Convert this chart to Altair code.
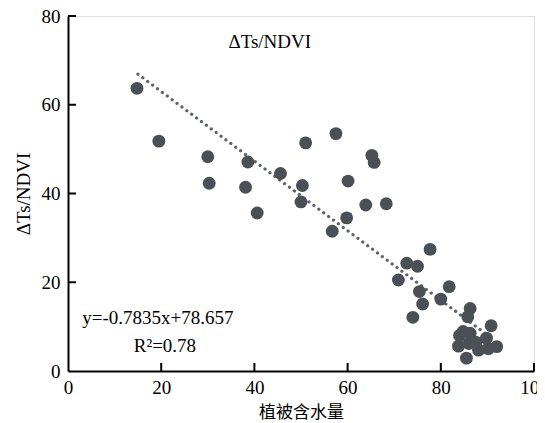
import altair as alt
import pandas as pd

x_vals = [14.8, 19.5, 30.0, 30.3, 38.6, 38.1, 40.6, 45.6, 50.3, 51.0, 50.0, 57.5,
          60.1, 56.7, 59.8, 65.2, 65.7, 63.9, 68.3, 77.7, 72.7, 75.0, 70.9, 81.8,
          75.4, 80.0, 76.1, 74.0, 86.3, 85.8, 90.8, 84.8, 86.3, 83.8, 86.0, 89.8,
          92.0, 88.1, 85.5, 90.2, 87.5, 84.0]
y_vals = [63.7, 51.8, 48.3, 42.3, 47.1, 41.4, 35.6, 44.5, 41.8, 51.4, 38.1, 53.5,
          42.8, 31.5, 34.5, 48.6, 47.0, 37.4, 37.7, 27.4, 24.3, 23.6, 20.5, 19.0,
          17.9, 16.2, 15.1, 12.1, 14.1, 12.2, 10.2, 8.9, 8.5, 5.6, 6.2, 7.4,
          5.5, 4.7, 2.9, 5.0, 6.5, 8.0]

trend_x = [15.0, 89.5]
trend_y = [66.9, 8.5]

x_ticks = [20, 40, 60, 80, 100]
y_ticks = [20, 40, 60, 80]

ann_text = ["ΔTs/NDVI", "y=-0.7835x+78.657", "R²=0.78"]
ann_x = [43.3, 19.3, 20.8]
ann_y = [74.1, 11.9, 5.6]

W, H = 466, 355
SERIF = "Liberation Serif"

pts = pd.DataFrame({"x": x_vals, "y": y_vals})
trend = pd.DataFrame({"x": trend_x, "y": trend_y})
xt = pd.DataFrame({"v": x_ticks})
yt = pd.DataFrame({"v": y_ticks})
ann = pd.DataFrame({"t": ann_text, "x": ann_x, "y": ann_y})

xscale = alt.Scale(domain=[0, 100], nice=False, zero=False)
yscale = alt.Scale(domain=[0, 80], nice=False, zero=False)

xaxis = alt.Axis(values=[0, 20, 40, 60, 80, 100], ticks=False, grid=False,
                 labelFlush=False, labelBound=False,
                 domainColor="black", domainWidth=2, labelFont=SERIF,
                 labelFontSize=19, labelColor="black", labelPadding=7,
                 title="植被含水量", titleFont="Noto Sans CJK SC",
                 titleFontSize=17, titleFontWeight="normal", titleColor="black",
                 titlePadding=7)
yaxis = alt.Axis(values=[0, 20, 40, 60, 80], ticks=False, grid=False,
                 labelFlush=False, labelBound=False,
                 domainColor="black", domainWidth=2, labelFont=SERIF,
                 labelFontSize=19, labelColor="black", labelPadding=8,
                 title="ΔTs/NDVI", titleFont=SERIF, titleFontSize=19,
                 titleFontWeight="normal", titleColor="black", titlePadding=8)

points = alt.Chart(pts).mark_circle(size=165, color="#4b5056", opacity=1).encode(
    x=alt.X("x:Q", scale=xscale, axis=xaxis),
    y=alt.Y("y:Q", scale=yscale, axis=yaxis),
)

line = alt.Chart(trend).mark_line(color="#5f6469", strokeWidth=3.2,
                                  strokeDash=[0.1, 6], strokeCap="round").encode(
    x=alt.X("x:Q", scale=xscale), y=alt.Y("y:Q", scale=yscale))

xtick = alt.Chart(xt).mark_rule(color="black", strokeWidth=2).encode(
    x=alt.X("v:Q", scale=xscale), y=alt.value(H), y2=alt.value(H - 8))
ytick = alt.Chart(yt).mark_rule(color="black", strokeWidth=2).encode(
    y=alt.Y("v:Q", scale=yscale), x=alt.value(0), x2=alt.value(8))

text = alt.Chart(ann).mark_text(font=SERIF, fontSize=19, color="black").encode(
    x=alt.X("x:Q", scale=xscale), y=alt.Y("y:Q", scale=yscale), text="t:N")

chart = alt.layer(line, points, xtick, ytick, text).properties(
    width=W, height=H,
    autosize=alt.AutoSizeParams(type="none"),
    padding={"left": 60, "top": 8, "right": 3, "bottom": 52},
).configure_view(stroke=None).configure(background="white")

chart.save("out.html", embed_options={"renderer": "svg", "actions": False})
